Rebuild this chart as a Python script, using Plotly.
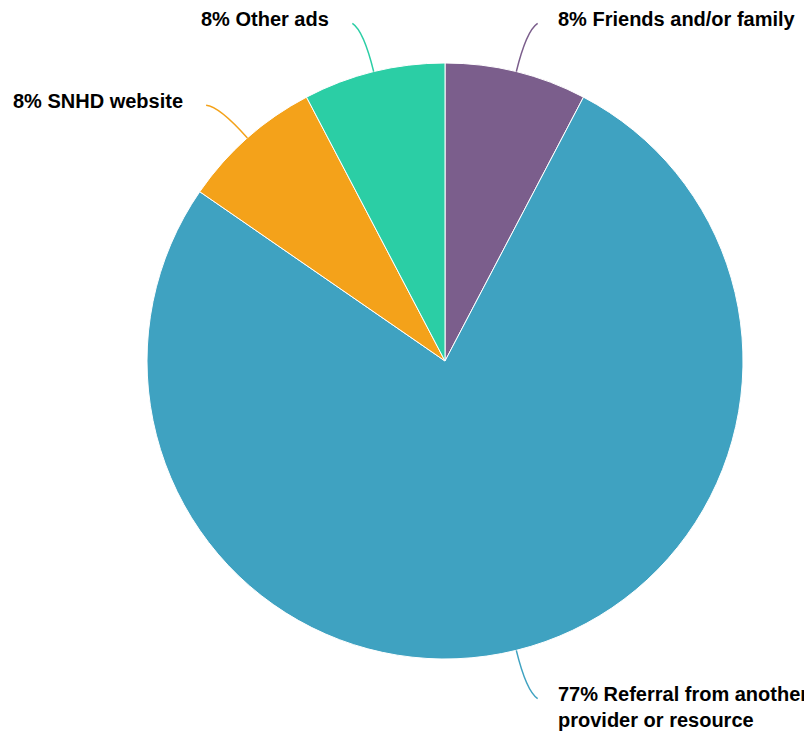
import math
import plotly.graph_objects as go

# How respondents heard about the program
sources = [
    "Friends and/or family",
    "Referral from another<br>provider or resource",
    "SNHD website",
    "Other ads",
]
responses = [1, 10, 1, 1]
slice_colors = ["#7b5e8c", "#3fa2c1", "#f4a21a", "#2bcea5"]

# Page geometry (pixels)
W, H = 804, 732
CX, CY, R = 445, 361, 298


def px(x):
    return x / W


def py(y):
    return 1 - y / H


fig = go.Figure(
    go.Pie(
        labels=sources,
        values=responses,
        sort=False,
        direction="clockwise",
        rotation=0,
        textinfo="none",
        hoverinfo="label+percent",
        marker=dict(colors=slice_colors, line=dict(color="white", width=1)),
        domain=dict(x=[px(CX - R), px(CX + R)], y=[py(CY + R), py(CY - R)]),
        showlegend=False,
    )
)

# Curved leader lines and outside labels, placed from each slice's mid-angle
total = sum(responses)
cum = 0
shapes, annotations = [], []
for label, value, color in zip(sources, responses, slice_colors):
    theta = math.radians((cum + value / 2) / total * 360)
    cum += value
    s, c = math.sin(theta), math.cos(theta)
    right = s >= 0
    sx = 1 if right else -1
    sy = 1 if c >= 0 else -1
    a = math.radians(math.degrees(math.atan2(abs(s), abs(c))) + 1.5)

    x0, y0 = CX + R * s, CY - R * c
    xc, yc = CX + 340 * s, CY - 340 * c
    x2, y2 = CX + sx * 350 * math.sin(a), CY - sy * 350 * math.cos(a)

    shapes.append(
        dict(
            type="path",
            xref="paper",
            yref="paper",
            path=f"M {px(x0)} {py(y0)} Q {px(xc)} {py(yc)} {px(x2)} {py(y2)}",
            line=dict(color=color, width=1.5),
        )
    )

    pct = round(100 * value / total)
    tx = x2 + 20 if right else x2 - 23
    ty = y2 + 2.5 - 18.1
    annotations.append(
        dict(
            text=f"{pct}% {label}",
            x=px(tx),
            y=py(ty),
            xref="paper",
            yref="paper",
            xanchor="left" if right else "right",
            yanchor="top",
            align="left" if right else "right",
            showarrow=False,
            borderpad=0,
            borderwidth=0,
            font=dict(family="Liberation Sans, Arial, sans-serif", size=20,
                      color="black", weight="bold"),
        )
    )

fig.update_layout(
    width=W,
    height=H,
    margin=dict(l=0, r=0, t=0, b=0),
    paper_bgcolor="white",
    plot_bgcolor="white",
    shapes=shapes,
    annotations=annotations,
)

fig.write_html("out.html")
